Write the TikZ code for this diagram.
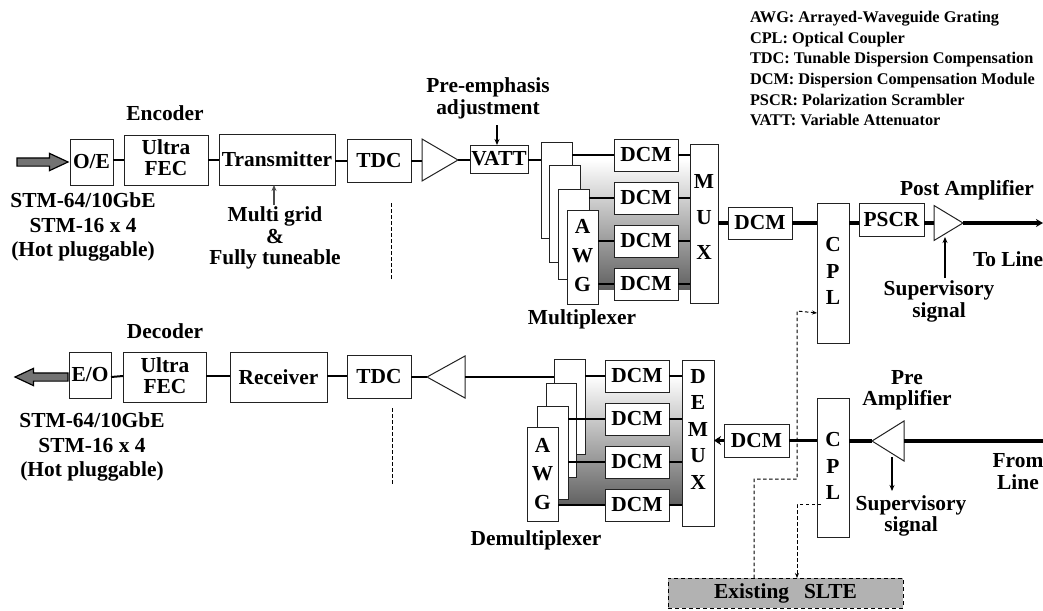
\documentclass[tikz,border=0pt]{standalone}
\usepackage{fontspec}
\setmainfont{Liberation Serif}
\usetikzlibrary{shapes.geometric,shapes.arrows,arrows.meta}
\definecolor{ink}{HTML}{222222}
\tikzset{
  bx/.style={draw=ink,fill=white,line width=1pt,inner sep=0pt,outer sep=0pt,align=center,font=\bfseries\fontsize{21.4}{21}\selectfont},
  lab/.style={inner sep=0pt,outer sep=0pt,align=center,text=black},
  conn/.style={line width=2pt,draw=black},
  fat/.style={line width=3.2pt,draw=black},
  thin arrow/.style={line width=1.2pt,draw=black,-{Stealth[length=6pt,width=5pt]}},
  dashline/.style={line width=1pt,draw=black,dash pattern=on 3.5pt off 2.5pt},
  dasharrow/.style={dashline,-{Stealth[length=5pt,width=4pt]}},
  amp/.style={isosceles triangle,isosceles triangle stretches,draw=ink,fill=white,line width=1pt,inner sep=0pt,outer sep=0pt},
  bigarrow/.style={single arrow,draw=black,fill=black!55,line width=1.2pt,inner sep=3.5pt,outer sep=0pt,minimum width=17pt,single arrow head extend=4.5pt,single arrow tip angle=50}
}
\newcommand{\bxnode}[6]{\pgfmathsetmacro{\bw}{#4-#2}\pgfmathsetmacro{\bh}{#5-#3}\pgfmathsetmacro{\bcx}{(#2+#4)/2}\pgfmathsetmacro{\bcy}{(#3+#5)/2}%
  \node[bx,minimum width=\bw pt,minimum height=\bh pt] (#1) at (\bcx,\bcy) {#6};}
\newcommand{\labn}[5]{\node[lab,font=\bfseries\fontsize{21.4}{#4}\selectfont] (#1) at (#2,#3) {#5};}
\begin{document}
\begin{tikzpicture}[x=1pt,y=-1pt]
\useasboundingbox (0,0) rectangle (1043,610);
% legend
\node[lab,align=left,anchor=north west,font=\bfseries\fontsize{16.3}{20.7}\selectfont] (legend) at (750,11) {AWG: Arrayed-Waveguide Grating\\CPL: Optical Coupler\\TDC: Tunable Dispersion Compensation\\DCM: Dispersion Compensation Module\\PSCR: Polarization Scrambler\\VATT: Variable Attenuator};
% gradients
\shade[top color=white,bottom color=black!62] (572,160) rectangle (690,289);
\shade[top color=white,bottom color=black!62] (558,376) rectangle (682,505);
% top row
\node[bigarrow,minimum height=51pt,anchor=tip] (inarrow) at (68,162) {};
\bxnode{oe}{70}{139}{113}{185}{O/E}
\bxnode{fec1}{124}{135}{208}{185}{}
\labn{fec1t}{166}{158}{21}{Ultra\\FEC}
\bxnode{tx}{219}{134}{335}{185}{Transmitter}
\bxnode{tdc1}{347}{139}{411}{182}{TDC}
\node[amp,minimum height=36pt,minimum width=42pt,anchor=apex] (amp1) at (458,160) {};
\bxnode{vatt}{470}{145}{528}{173}{VATT}
% upper stack
\bxnode{s1}{541}{142}{572}{238}{}
\bxnode{s2}{549}{165}{580}{262}{}
\bxnode{s3}{558}{189}{589}{279}{}
\bxnode{awg1}{567}{210}{598}{304}{}
\labn{awg1t}{582.5}{256}{29}{A\\W\\G}
\bxnode{d1}{614}{139}{678}{171}{DCM}
\bxnode{d2}{614}{182}{678}{214}{DCM}
\bxnode{d3}{614}{225}{678}{257}{DCM}
\bxnode{d4}{614}{268}{678}{300}{DCM}
\bxnode{mux}{690}{144}{718}{303}{}
\labn{muxt}{704}{217}{35.5}{M\\U\\X}
\bxnode{d5}{728}{207}{792}{239}{DCM}
\bxnode{cpl1}{817}{203}{849}{343}{}
\labn{cpl1t}{833}{271}{26.5}{C\\P\\L}
\bxnode{pscr}{859}{203}{924}{236}{PSCR}
\node[amp,minimum height=29pt,minimum width=35pt,anchor=apex] (amp2) at (963,223) {};
\coordinate (toline) at (1043,223);
% top connectors
\draw[conn] (oe.east |- fec1.west) -- (fec1.west);
\draw[conn] (fec1.east) -- (tx.west |- fec1.east);
\draw[conn] (tx.east |- tdc1.west) -- (tdc1.west);
\draw[conn] (tdc1.east) -- (amp1.lower side |- tdc1.east);
\draw[conn] (amp1.apex) -- (vatt.west |- amp1.apex);
\draw[conn] (vatt.east |- amp1.apex) -- (s1.west |- amp1.apex);
\draw[conn] (s1.east |- d1.west) -- (d1.west);
\draw[conn] (s3.east |- d2.west) -- (d2.west);
\draw[conn] (awg1.east |- d3.west) -- (d3.west);
\draw[conn] (awg1.east |- d4.west) -- (d4.west);
\draw[conn] (d1.east) -- (mux.west |- d1.east);
\draw[conn] (d2.east) -- (mux.west |- d2.east);
\draw[conn] (d3.east) -- (mux.west |- d3.east);
\draw[conn] (d4.east) -- (mux.west |- d4.east);
\draw[fat] (mux.east |- d5.west) -- (d5.west);
\draw[fat] (d5.east) -- (cpl1.west |- d5.east);
\draw[fat] (cpl1.east |- amp2.apex) -- (pscr.west |- amp2.apex);
\draw[fat] (pscr.east |- amp2.apex) -- (amp2.lower side);
\draw[fat,-{Stealth[length=7pt,width=8pt]}] (amp2.apex) -- (toline);
% top arrows and labels
\coordinate (preadj) at (497,125);
\draw[thin arrow] (preadj) -- (vatt.north -| preadj);
\coordinate (grid) at (274,205);
\draw[thin arrow,draw=black!70] (grid) -- (tx.south -| grid);
\coordinate (supv1) at (945,278);
\coordinate (supv1t) at (945,237);
\draw[thin arrow] (supv1) -- (supv1t);
\coordinate (dv1a) at (391,203); \coordinate (dv1b) at (391,280);
\draw[dashline] (dv1a) -- (dv1b);
\labn{enc}{165}{113}{21}{Encoder}
\labn{stm1}{83}{227}{24.5}{STM-64/10GbE\\STM-16 x 4\\(Hot pluggable)}
\labn{mg}{275}{238}{21.5}{Multi grid\\\&\\Fully tuneable}
\labn{pe}{488}{98}{22}{Pre-emphasis\\adjustment}
\labn{mx}{582}{319}{21}{Multiplexer}
\labn{post}{967}{190}{21}{Post Amplifier}
\labn{tol}{1008}{259}{21}{To Line}
\labn{sup1}{939}{301}{22}{Supervisory\\signal}
% bottom row
\node[bigarrow,minimum height=53pt,anchor=tip,shape border rotate=180] (outarrow) at (15,377) {};
\bxnode{eo}{69}{352}{111}{398}{E/O}
\bxnode{fec2}{123}{352}{206}{402}{}
\labn{fec2t}{165}{376}{21}{Ultra\\FEC}
\bxnode{rx}{230}{352}{327}{402}{Receiver}
\bxnode{tdc2}{347}{355}{411}{398}{TDC}
\node[amp,minimum height=38pt,minimum width=42pt,anchor=apex,shape border rotate=180] (amp3) at (427,377) {};
% lower stack
\bxnode{t1}{554}{359}{585}{454}{}
\bxnode{t2}{546}{383}{576}{477}{}
\bxnode{t3}{537}{406}{568}{499}{}
\bxnode{awg2}{527}{427}{558}{521}{}
\labn{awg2t}{542.5}{474}{28.5}{A\\W\\G}
\bxnode{e1}{605}{360}{669}{392}{DCM}
\bxnode{e2}{605}{403}{669}{435}{DCM}
\bxnode{e3}{605}{446}{669}{478}{DCM}
\bxnode{e4}{605}{489}{669}{521}{DCM}
\bxnode{demux}{682}{360}{714}{526}{}
\labn{demuxt}{698}{429}{26.5}{D\\E\\M\\U\\X}
\bxnode{d6}{724}{424}{789}{457}{DCM}
\bxnode{cpl2}{817}{398}{849}{537}{}
\labn{cpl2t}{833}{466}{26.5}{C\\P\\L}
\node[amp,minimum height=32pt,minimum width=40pt,anchor=apex,shape border rotate=180] (amp4) at (872,441) {};
\coordinate (fromline) at (1043,441);
% bottom connectors
\draw[conn] (eo.east |- fec2.west) -- (fec2.west |- 0,376);
\draw[conn] (fec2.east |- 0,376) -- (rx.west |- 0,376);
\draw[conn] (rx.east |- 0,376) -- (tdc2.west |- 0,376);
\draw[conn] (tdc2.east |- amp3.apex) -- (amp3.apex);
\draw[conn] (amp3.lower side) -- (t1.west |- amp3.lower side);
\draw[conn] (t1.east |- e1.west) -- (e1.west);
\draw[conn] (t3.east |- e2.west) -- (e2.west);
\draw[conn] (t3.east |- e3.west) -- (e3.west);
\draw[conn] (awg2.east |- e4.west) -- (e4.west);
\draw[conn] (e1.east) -- (demux.west |- e1.east);
\draw[conn] (e2.east) -- (demux.west |- e2.east);
\draw[conn] (e3.east) -- (demux.west |- e3.east);
\draw[conn] (e4.east) -- (demux.west |- e4.east);
\draw[fat,-{Stealth[length=7pt,width=9pt]}] (d6.west) -- (demux.east |- d6.west);
\draw[fat] (d6.east) -- (cpl2.west |- d6.east);
\draw[fat] (cpl2.east |- amp4.apex) -- (amp4.apex);
\draw[fat] (amp4.lower side) -- (fromline);
\coordinate (supv2a) at (892,457); \coordinate (supv2b) at (892,491);
\draw[thin arrow] (supv2a) -- (supv2b);
\coordinate (dv2a) at (392,408); \coordinate (dv2b) at (392,484);
\draw[dashline] (dv2a) -- (dv2b);
\labn{dec}{165}{331}{21}{Decoder}
\labn{stm2}{92}{447}{24.5}{STM-64/10GbE\\STM-16 x 4\\(Hot pluggable)}
\labn{dmx}{536}{540}{21}{Demultiplexer}
\labn{pre}{907}{390}{21}{Pre\\Amplifier}
\labn{sup2}{911}{516}{21.5}{Supervisory\\signal}
\labn{froml}{1018}{472}{22}{From\\Line}
% SLTE and dashed signal paths
\node[draw=black,fill=black!30,line width=1pt,dash pattern=on 4pt off 3pt,minimum width=235pt,minimum height=30pt,inner sep=0pt,outer sep=0pt,font=\bfseries\fontsize{21.4}{21}\selectfont] (slte) at (785.5,593) {Existing\hspace{0.7em}SLTE};
\coordinate (b1) at (797,311); \coordinate (b2) at (797,479); \coordinate (b3) at (754,479);
\coordinate (c1) at (821,504); \coordinate (c2) at (797,504);
\draw[dasharrow] (slte.north -| b3) -- (b3) -- (b2) -- (b1) -- (cpl1.west |- 0,313);
\draw[dasharrow] (c1) -- (c2) -- (slte.north -| c2);
\end{tikzpicture}
\end{document}
